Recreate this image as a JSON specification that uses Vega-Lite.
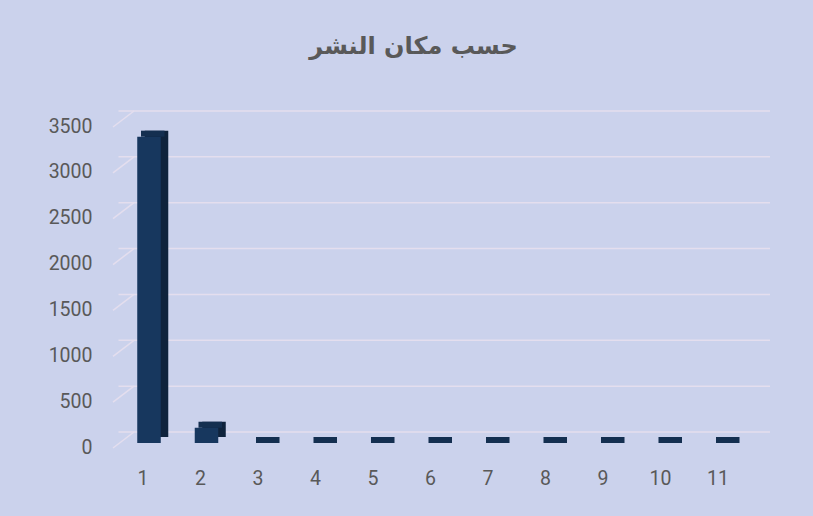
{
  "$schema": "https://vega.github.io/schema/vega-lite/v6.json",
  "width": 636,
  "height": 321,
  "autosize": {"type": "none"},
  "padding": {"left": 118.5, "top": 122, "right": 58.5, "bottom": 73},
  "background": "#CBD2EC",
  "config": {
    "view": {"stroke": null},
    "font": "Roboto",
    "axis": {"labelFont": "Roboto", "labelFontSize": 19.5, "labelColor": "#595959", "title": null, "domain": false, "ticks": false, "grid": false},
    "axisX": {"labelAngle": 0, "labelPadding": 26, "labelOffset": -6, "bandPosition": 0.5}
  },
  "title": {
    "text": "حسب مكان النشر",
    "font": "DejaVu Sans",
    "fontSize": 24,
    "fontWeight": "bold",
    "color": "#595959",
    "offset": 51,
    "frame": "group",
    "dx": -23
  },
  "datasets": {
    "bars": [
      {"c": "1", "v": 3340},
      {"c": "2", "v": 165},
      {"c": "3", "v": 0},
      {"c": "4", "v": 0},
      {"c": "5", "v": 0},
      {"c": "6", "v": 0},
      {"c": "7", "v": 0},
      {"c": "8", "v": 0},
      {"c": "9", "v": 0},
      {"c": "10", "v": 0},
      {"c": "11", "v": 0}
    ],
    "grid": [
      {"g": 0}, {"g": 500}, {"g": 1000}, {"g": 1500},
      {"g": 2000}, {"g": 2500}, {"g": 3000}, {"g": 3500}
    ]
  },
  "layer": [
    {
      "data": {"name": "grid"},
      "mark": {"type": "rule", "color": "#E4DEEE", "strokeWidth": 1.5, "xOffset": 15.5, "x2Offset": 15.5, "yOffset": -11},
      "encoding": {
        "y": {
          "field": "g",
          "type": "quantitative",
          "scale": {"domain": [0, 3500]},
          "axis": {
            "values": [0, 500, 1000, 1500, 2000, 2500, 3000, 3500],
            "format": "d",
            "labelPadding": 26.5,
            "labelOffset": 4,
            "labelFontSize": 19.5
          }
        }
      }
    },
    {
      "data": {"name": "bars"},
      "mark": {"type": "bar", "color": "#0F233C", "xOffset": 7.5, "yOffset": -6, "y2Offset": -6},
      "encoding": {
        "x": {
          "field": "c",
          "type": "nominal",
          "sort": null,
          "scale": {"paddingInner": 0.591, "paddingOuter": 0.326},
          "axis": {
            "labelAngle": 0,
            "labelPadding": 26,
            "labelOffset": -6,
            "bandPosition": 0.5,
            "labelFontSize": 19.5
          }
        },
        "y": {"field": "v", "type": "quantitative"}
      }
    },
    {
      "data": {"name": "bars"},
      "mark": {"type": "bar", "color": "#142F50", "xOffset": 3.75, "yOffset": -6, "y2Offset": 0},
      "encoding": {
        "x": {"field": "c", "type": "nominal", "sort": null},
        "y": {"field": "v", "type": "quantitative"},
        "y2": {"field": "v"}
      }
    },
    {
      "data": {"name": "bars"},
      "mark": {"type": "bar", "color": "#17375E"},
      "encoding": {
        "x": {"field": "c", "type": "nominal", "sort": null},
        "y": {"field": "v", "type": "quantitative"}
      }
    },
    {
      "data": {"name": "grid"},
      "mark": {"type": "rule", "color": "#E4DEEE", "strokeWidth": 1.5, "xOffset": -36, "x2Offset": -15, "yOffset": 5, "y2Offset": -11},
      "encoding": {
        "x": {
          "datum": "1",
          "axis": {
            "labelAngle": 0,
            "labelPadding": 26,
            "labelOffset": -6,
            "bandPosition": 0.5,
            "labelFontSize": 19.5
          }
        },
        "x2": {"datum": "1"},
        "y": {"field": "g", "type": "quantitative"},
        "y2": {"field": "g"}
      }
    }
  ]
}
